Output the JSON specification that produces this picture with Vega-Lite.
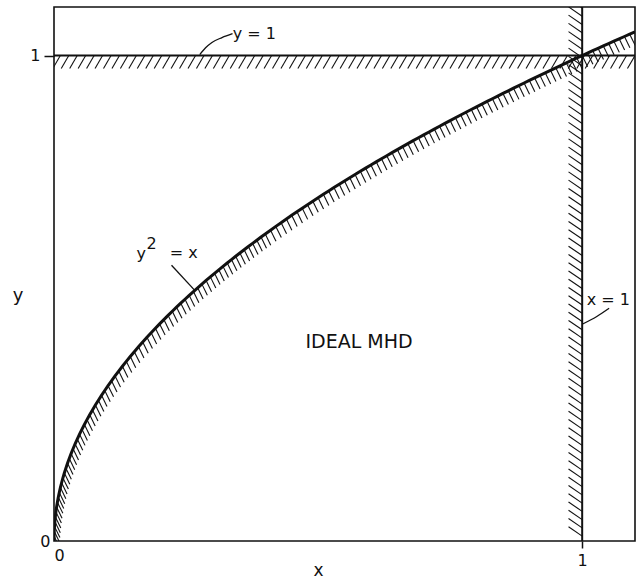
{
  "$schema": "https://vega.github.io/schema/vega-lite/v6.json",
  "width": 581,
  "height": 534,
  "autosize": {"type": "none"},
  "padding": {"left": 54, "top": 7, "right": 2, "bottom": 38},
  "background": "white",
  "config": {
    "font": "DejaVu Sans",
    "view": {"stroke": "#111", "strokeWidth": 1.6},
    "axis": {"grid": false, "domain": false}
  },
  "datasets": {
    "curve": [
      {"x": 0, "y": 0},
      {"x": 0.0001, "y": 0.01}, {"x": 0.0004, "y": 0.02}, {"x": 0.0009, "y": 0.03}, {"x": 0.0016, "y": 0.04},
      {"x": 0.0025, "y": 0.05}, {"x": 0.0036, "y": 0.06}, {"x": 0.0049, "y": 0.07}, {"x": 0.0064, "y": 0.08},
      {"x": 0.0081, "y": 0.09}, {"x": 0.01, "y": 0.10}, {"x": 0.0121, "y": 0.11}, {"x": 0.0144, "y": 0.12},
      {"x": 0.0169, "y": 0.13}, {"x": 0.0196, "y": 0.14}, {"x": 0.0225, "y": 0.15}, {"x": 0.0256, "y": 0.16},
      {"x": 0.0289, "y": 0.17}, {"x": 0.0324, "y": 0.18}, {"x": 0.0361, "y": 0.19}, {"x": 0.04, "y": 0.20},
      {"x": 0.0441, "y": 0.21}, {"x": 0.0484, "y": 0.22}, {"x": 0.0529, "y": 0.23}, {"x": 0.0576, "y": 0.24},
      {"x": 0.0625, "y": 0.25}, {"x": 0.0676, "y": 0.26}, {"x": 0.0729, "y": 0.27}, {"x": 0.0784, "y": 0.28},
      {"x": 0.0841, "y": 0.29}, {"x": 0.09, "y": 0.30}, {"x": 0.0961, "y": 0.31}, {"x": 0.1024, "y": 0.32},
      {"x": 0.1089, "y": 0.33}, {"x": 0.1156, "y": 0.34}, {"x": 0.1225, "y": 0.35}, {"x": 0.1296, "y": 0.36},
      {"x": 0.1369, "y": 0.37}, {"x": 0.1444, "y": 0.38}, {"x": 0.1521, "y": 0.39}, {"x": 0.16, "y": 0.40},
      {"x": 0.168, "y": 0.40988}, {"x": 0.176, "y": 0.41952}, {"x": 0.184, "y": 0.42895}, {"x": 0.192, "y": 0.43818},
      {"x": 0.200, "y": 0.44721}, {"x": 0.208, "y": 0.45607}, {"x": 0.216, "y": 0.46476}, {"x": 0.224, "y": 0.47329},
      {"x": 0.232, "y": 0.48166}, {"x": 0.240, "y": 0.48990}, {"x": 0.248, "y": 0.49800}, {"x": 0.256, "y": 0.50596},
      {"x": 0.264, "y": 0.51381}, {"x": 0.272, "y": 0.52154}, {"x": 0.280, "y": 0.52915}, {"x": 0.288, "y": 0.53666},
      {"x": 0.296, "y": 0.54406}, {"x": 0.304, "y": 0.55136}, {"x": 0.312, "y": 0.55857}, {"x": 0.320, "y": 0.56569},
      {"x": 0.328, "y": 0.57271}, {"x": 0.336, "y": 0.57966}, {"x": 0.344, "y": 0.58652}, {"x": 0.352, "y": 0.59330},
      {"x": 0.360, "y": 0.60000}, {"x": 0.368, "y": 0.60663}, {"x": 0.376, "y": 0.61319}, {"x": 0.384, "y": 0.61968},
      {"x": 0.392, "y": 0.62610}, {"x": 0.400, "y": 0.63246},
      {"x": 0.41, "y": 0.64031}, {"x": 0.42, "y": 0.64807}, {"x": 0.43, "y": 0.65574}, {"x": 0.44, "y": 0.66332},
      {"x": 0.45, "y": 0.67082}, {"x": 0.46, "y": 0.67823}, {"x": 0.47, "y": 0.68557}, {"x": 0.48, "y": 0.69282},
      {"x": 0.49, "y": 0.70000}, {"x": 0.50, "y": 0.70711}, {"x": 0.51, "y": 0.71414}, {"x": 0.52, "y": 0.72111},
      {"x": 0.53, "y": 0.72801}, {"x": 0.54, "y": 0.73485}, {"x": 0.55, "y": 0.74162}, {"x": 0.56, "y": 0.74833},
      {"x": 0.57, "y": 0.75498}, {"x": 0.58, "y": 0.76158}, {"x": 0.59, "y": 0.76811}, {"x": 0.60, "y": 0.77460},
      {"x": 0.61, "y": 0.78102}, {"x": 0.62, "y": 0.78740}, {"x": 0.63, "y": 0.79373}, {"x": 0.64, "y": 0.80000},
      {"x": 0.65, "y": 0.80623}, {"x": 0.66, "y": 0.81240}, {"x": 0.67, "y": 0.81854}, {"x": 0.68, "y": 0.82462},
      {"x": 0.69, "y": 0.83066}, {"x": 0.70, "y": 0.83666}, {"x": 0.71, "y": 0.84261}, {"x": 0.72, "y": 0.84853},
      {"x": 0.73, "y": 0.85440}, {"x": 0.74, "y": 0.86023}, {"x": 0.75, "y": 0.86603}, {"x": 0.76, "y": 0.87178},
      {"x": 0.77, "y": 0.87750}, {"x": 0.78, "y": 0.88318}, {"x": 0.79, "y": 0.88882}, {"x": 0.80, "y": 0.89443},
      {"x": 0.81, "y": 0.90000}, {"x": 0.82, "y": 0.90554}, {"x": 0.83, "y": 0.91104}, {"x": 0.84, "y": 0.91652},
      {"x": 0.85, "y": 0.92195}, {"x": 0.86, "y": 0.92736}, {"x": 0.87, "y": 0.93274}, {"x": 0.88, "y": 0.93808},
      {"x": 0.89, "y": 0.94340}, {"x": 0.90, "y": 0.94868}, {"x": 0.91, "y": 0.95394}, {"x": 0.92, "y": 0.95917},
      {"x": 0.93, "y": 0.96437}, {"x": 0.94, "y": 0.96954}, {"x": 0.95, "y": 0.97468}, {"x": 0.96, "y": 0.97980},
      {"x": 0.97, "y": 0.98489}, {"x": 0.98, "y": 0.98995}, {"x": 0.99, "y": 0.99499}, {"x": 1.00, "y": 1.00000},
      {"x": 1.01, "y": 1.00499}, {"x": 1.02, "y": 1.00995}, {"x": 1.03, "y": 1.01489}, {"x": 1.04, "y": 1.01980},
      {"x": 1.05, "y": 1.02470}, {"x": 1.06, "y": 1.02956}, {"x": 1.07, "y": 1.03441}, {"x": 1.08, "y": 1.03923},
      {"x": 1.09, "y": 1.04403}, {"x": 1.10, "y": 1.04881}
    ],
    "topBand": [
      {"x": 0.012}, {"x": 0.028}, {"x": 0.044}, {"x": 0.060}, {"x": 0.076}, {"x": 0.092}, {"x": 0.108}, {"x": 0.124},
      {"x": 0.140}, {"x": 0.156}, {"x": 0.172}, {"x": 0.188}, {"x": 0.204}, {"x": 0.220}, {"x": 0.236}, {"x": 0.252},
      {"x": 0.268}, {"x": 0.284}, {"x": 0.300}, {"x": 0.316}, {"x": 0.332}, {"x": 0.348}, {"x": 0.364}, {"x": 0.380},
      {"x": 0.396}, {"x": 0.412}, {"x": 0.428}, {"x": 0.444}, {"x": 0.460}, {"x": 0.476}, {"x": 0.492}, {"x": 0.508},
      {"x": 0.524}, {"x": 0.540}, {"x": 0.556}, {"x": 0.572}, {"x": 0.588}, {"x": 0.604}, {"x": 0.620}, {"x": 0.636},
      {"x": 0.652}, {"x": 0.668}, {"x": 0.684}, {"x": 0.700}, {"x": 0.716}, {"x": 0.732}, {"x": 0.748}, {"x": 0.764},
      {"x": 0.780}, {"x": 0.796}, {"x": 0.812}, {"x": 0.828}, {"x": 0.844}, {"x": 0.860}, {"x": 0.876}, {"x": 0.892},
      {"x": 0.908}, {"x": 0.924}, {"x": 0.940}, {"x": 0.956}, {"x": 0.972}, {"x": 0.988}, {"x": 1.004}, {"x": 1.020},
      {"x": 1.036}, {"x": 1.052}, {"x": 1.068}, {"x": 1.084}, {"x": 1.100}
    ],
    "rightBand": [
      {"y": 0.010}, {"y": 0.027}, {"y": 0.044}, {"y": 0.061}, {"y": 0.078}, {"y": 0.095}, {"y": 0.112}, {"y": 0.129},
      {"y": 0.146}, {"y": 0.163}, {"y": 0.180}, {"y": 0.197}, {"y": 0.214}, {"y": 0.231}, {"y": 0.248}, {"y": 0.265},
      {"y": 0.282}, {"y": 0.299}, {"y": 0.316}, {"y": 0.333}, {"y": 0.350}, {"y": 0.367}, {"y": 0.384}, {"y": 0.401},
      {"y": 0.418}, {"y": 0.435}, {"y": 0.452}, {"y": 0.469}, {"y": 0.486}, {"y": 0.503}, {"y": 0.520}, {"y": 0.537},
      {"y": 0.554}, {"y": 0.571}, {"y": 0.588}, {"y": 0.605}, {"y": 0.622}, {"y": 0.639}, {"y": 0.656}, {"y": 0.673},
      {"y": 0.690}, {"y": 0.707}, {"y": 0.724}, {"y": 0.741}, {"y": 0.758}, {"y": 0.775}, {"y": 0.792}, {"y": 0.809},
      {"y": 0.826}, {"y": 0.843}, {"y": 0.860}, {"y": 0.877}, {"y": 0.894}, {"y": 0.911}, {"y": 0.928}, {"y": 0.945},
      {"y": 0.962}, {"y": 0.979}, {"y": 0.996}, {"y": 1.013}, {"y": 1.030}, {"y": 1.047}, {"y": 1.064}, {"y": 1.081},
      {"y": 1.098}
    ],
    "leaders": [
      {"g": "a", "x": 0.276, "y": 1.002}, {"g": "a", "x": 0.287, "y": 1.016}, {"g": "a", "x": 0.299, "y": 1.027},
      {"g": "a", "x": 0.318, "y": 1.037}, {"g": "a", "x": 0.338, "y": 1.045},
      {"g": "b", "x": 0.2225, "y": 0.568}, {"g": "b", "x": 0.2665, "y": 0.5162},
      {"g": "c", "x": 1.0, "y": 0.4465}, {"g": "c", "x": 1.0284, "y": 0.463}, {"g": "c", "x": 1.051, "y": 0.4794}
    ],
    "labels": [
      {"x": 0.3384, "y": 1.034, "t": "y = 1"},
      {"x": 0.1560, "y": 0.5802, "t": "y"},
      {"x": 0.1750, "y": 0.6005, "t": "2"},
      {"x": 0.2193, "y": 0.5823, "t": "= x"},
      {"x": 1.0085, "y": 0.4856, "t": "x = 1"}
    ]
  },
  "layer": [
    {
      "data": {"name": "curve"},
      "mark": {"type": "line", "color": "#111", "strokeWidth": 3, "clip": true},
      "encoding": {
        "x": {
          "field": "x", "type": "quantitative",
          "scale": {"domain": [0, 1.1], "nice": false, "zero": false},
          "axis": {
            "values": [0, 1], "format": "d", "title": "x", "titleFontSize": 17, "titleFontWeight": "normal",
            "titleX": 264, "titleY": 34, "titleAlign": "center", "titleBaseline": "alphabetic", "titleColor": "#111",
            "tickSize": 7, "tickWidth": 1.5, "tickColor": "#111",
            "tickOpacity": {"condition": {"test": "datum.value == 1", "value": 1}, "value": 0},
            "labelFontSize": 16, "labelColor": "#111", "labelBaseline": "top",
            "labelPadding": {"condition": {"test": "datum.value == 0", "value": -1}, "value": 4}
          }
        },
        "y": {
          "field": "y", "type": "quantitative",
          "scale": {"domain": [0, 1.1], "nice": false, "zero": false},
          "axis": {
            "values": [0, 1], "format": "d", "title": "y", "titleFontSize": 18, "titleFontWeight": "normal", "titleAngle": 0,
            "titleX": -36.5, "titleY": 293, "titleAlign": "center", "titleBaseline": "alphabetic", "titleColor": "#111",
            "tickSize": 10, "tickWidth": 1.5, "tickColor": "#111",
            "tickOpacity": {"condition": {"test": "datum.value == 1", "value": 1}, "value": 0},
            "labelFontSize": 16, "labelColor": "#111",
            "labelPadding": {"condition": {"test": "datum.value == 0", "value": -6}, "value": 4}
          }
        }
      }
    },
    {
      "data": {"name": "curve"},
      "mark": {"type": "point", "shape": "M0,0L0.42,0.86", "size": 676, "filled": false, "stroke": "#111", "strokeWidth": 1.1, "opacity": 1, "clip": true},
      "encoding": {
        "x": {"field": "x", "type": "quantitative"},
        "y": {"field": "y", "type": "quantitative"}
      }
    },
    {
      "data": {"name": "topBand"},
      "mark": {"type": "point", "shape": "M0,0L-0.58,1", "size": 676, "filled": false, "stroke": "#111", "strokeWidth": 1.1, "opacity": 1, "clip": true},
      "encoding": {
        "x": {"field": "x", "type": "quantitative"},
        "y": {"datum": 1, "type": "quantitative"}
      }
    },
    {
      "data": {"name": "rightBand"},
      "mark": {"type": "point", "shape": "M0,0L-1.05,-0.72", "size": 676, "filled": false, "stroke": "#111", "strokeWidth": 1.1, "opacity": 1, "clip": true},
      "encoding": {
        "x": {"datum": 1, "type": "quantitative"},
        "y": {"field": "y", "type": "quantitative"}
      }
    },
    {
      "data": {"values": [{"y": 1}]},
      "mark": {"type": "rule", "color": "#111", "strokeWidth": 2},
      "encoding": {"y": {"field": "y", "type": "quantitative"}}
    },
    {
      "data": {"values": [{"x": 1}]},
      "mark": {"type": "rule", "color": "#111", "strokeWidth": 2},
      "encoding": {"x": {"field": "x", "type": "quantitative"}}
    },
    {
      "data": {"name": "leaders"},
      "mark": {"type": "line", "color": "#111", "strokeWidth": 1.3, "interpolate": "monotone"},
      "encoding": {
        "x": {"field": "x", "type": "quantitative"},
        "y": {"field": "y", "type": "quantitative"},
        "detail": {"field": "g"}
      }
    },
    {
      "data": {"name": "labels"},
      "mark": {"type": "text", "align": "left", "baseline": "alphabetic", "fontSize": 16, "color": "#111"},
      "encoding": {
        "x": {"field": "x", "type": "quantitative"},
        "y": {"field": "y", "type": "quantitative"},
        "text": {"field": "t"}
      }
    },
    {
      "data": {"values": [{"x": 0.5775, "y": 0.397, "t": "IDEAL MHD"}]},
      "mark": {"type": "text", "align": "center", "baseline": "alphabetic", "fontSize": 19, "color": "#111"},
      "encoding": {
        "x": {"field": "x", "type": "quantitative"},
        "y": {"field": "y", "type": "quantitative"},
        "text": {"field": "t"}
      }
    }
  ]
}
